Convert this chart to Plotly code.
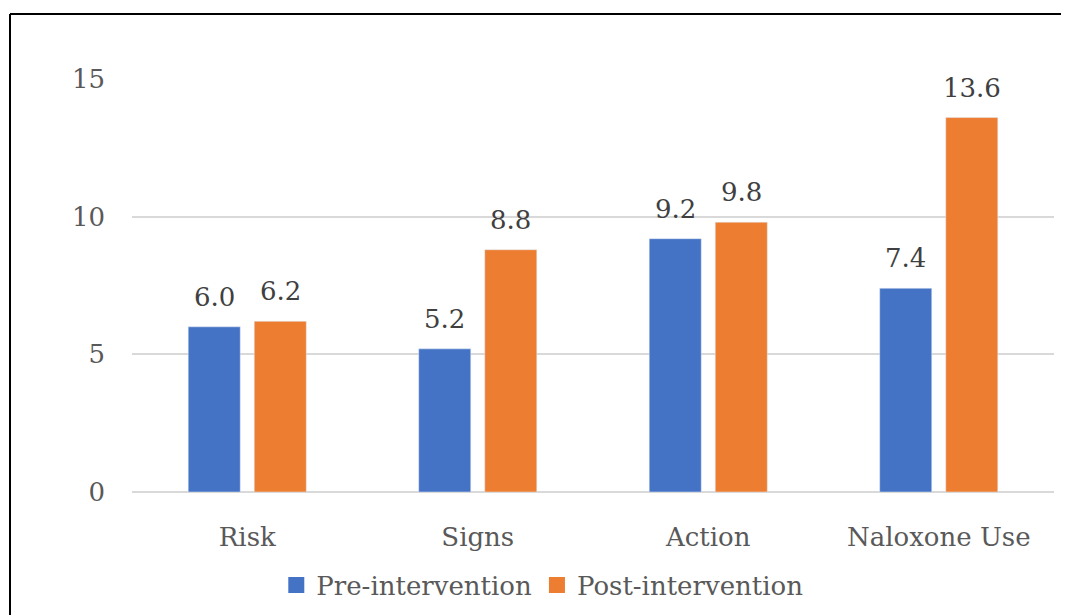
import plotly.graph_objects as go

categories = ["Risk", "Signs", "Action", "Naloxone Use"]
pre_values = [6.0, 5.2, 9.2, 7.4]
post_values = [6.2, 8.8, 9.8, 13.6]
y_ticks = [0, 5, 10, 15]

FONT = "DejaVu Serif"
FS = 26
BLUE, ORANGE = "#4472C4", "#ED7D31"

# page body has an 8px margin; shrink figure so it fills the window exactly
OFF = 8
W, H = 1069 - OFF, 615 - OFF
L, R, T, B = 132 - OFF, 15, 79 - OFF, 123
pw, ph = W - L - R, H - T - B
bx = (10 - OFF - L) / pw
by = (H - B - (14 - OFF)) / ph

fig = go.Figure()
fig.add_trace(go.Bar(name="Pre-intervention", x=categories, y=pre_values,
                     marker_color=BLUE, showlegend=False))
fig.add_trace(go.Bar(name="Post-intervention", x=categories, y=post_values,
                     marker_color=ORANGE, showlegend=False))
# legend entries with larger square swatches
for name, col in [("Pre-intervention", BLUE), ("Post-intervention", ORANGE)]:
    fig.add_trace(go.Scatter(x=[None], y=[None], mode="markers", name=name,
                             marker=dict(symbol="square", size=17, color=col)))

annotations = []
slot = pw / len(categories) * (1 - 0.427) / 2
for cat, a, b in zip(categories, pre_values, post_values):
    for v, sh in [(a, -slot / 2), (b, slot / 2)]:
        annotations.append(dict(x=cat, y=v, text=f"{v:.1f}", showarrow=False,
                                xshift=sh, yshift=30, xref="x", yref="y",
                                font=dict(family=FONT, size=FS, color="#404040")))

fig.update_layout(
    width=W, height=H,
    margin=dict(l=L, r=R, t=T, b=B, autoexpand=False),
    paper_bgcolor="white", plot_bgcolor="white",
    barmode="group", bargap=0.427, bargroupgap=0.212,
    font=dict(family=FONT, size=FS, color="#595959"),
    showlegend=True,
    legend=dict(orientation="h", x=0.445, xanchor="center",
                yref="container", y=1 - (585 - OFF) / H, yanchor="middle",
                font=dict(family=FONT, size=FS, color="#595959"),
                itemsizing="trace", traceorder="normal", itemwidth=30,
                tracegroupgap=0),
    xaxis=dict(showgrid=False, showline=False, ticks="", ticklabelstandoff=27,
               automargin=False,
               tickfont=dict(family=FONT, size=FS, color="#595959")),
    yaxis=dict(range=[0, 15], tickvals=y_ticks, showgrid=True, gridcolor="#D9D9D9",
               gridwidth=1.5, zeroline=True, zerolinecolor="#D9D9D9", zerolinewidth=1.5,
               showline=False, ticks="", ticklabelstandoff=26, automargin=False,
               tickfont=dict(family=FONT, size=FS, color="#595959")),
    annotations=annotations,
    shapes=[
        dict(type="line", xref="paper", yref="paper", x0=bx, x1=1.3, y0=by, y1=by,
             line=dict(color="black", width=2)),
        dict(type="line", xref="paper", yref="paper", x0=bx, x1=bx, y0=by, y1=-0.5,
             line=dict(color="black", width=2)),
    ],
)

fig.write_html("out.html")
